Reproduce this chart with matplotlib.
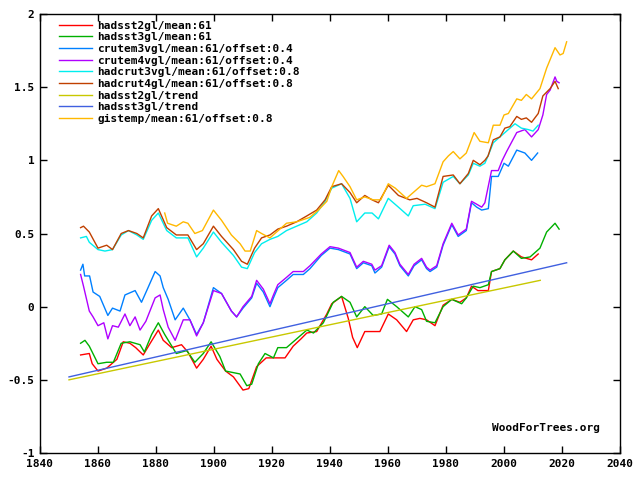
import numpy as np
import matplotlib
matplotlib.use("Agg")
import matplotlib.pyplot as plt

# --- data (year, value) ---
hadsst2_years = [1854, 1857, 1858, 1860, 1863, 1866.5, 1868.7, 1871, 1873, 1875.6, 1878, 1880.8, 1882.5,
                 1885.4, 1888.8, 1891, 1894, 1896.3, 1899, 1901, 1904, 1906.7, 1910, 1912, 1914.7, 1918,
                 1920.5, 1924.5, 1927.3, 1930, 1932, 1935.4, 1938.9, 1940.6, 1944, 1946.3, 1947.8, 1949.4,
                 1952, 1954.4, 1957.2, 1960.1, 1963, 1966.4, 1968.7, 1971, 1973.3, 1976.2, 1979, 1982,
                 1984.8, 1987, 1988.8, 1991, 1994.6, 1995.7, 1998.6, 2000.3, 2003.2, 2006, 2009.5, 2011.8]
hadsst2_vals = [-0.33, -0.32, -0.39, -0.44, -0.42, -0.36, -0.24, -0.25, -0.28, -0.33, -0.25, -0.16, -0.23,
                -0.28, -0.26, -0.31, -0.42, -0.36, -0.27, -0.36, -0.44, -0.48, -0.57, -0.56, -0.41, -0.35,
                -0.35, -0.35, -0.27, -0.22, -0.18, -0.17, -0.05, 0.02, 0.07, -0.08, -0.21, -0.28,
                -0.17, -0.17, -0.17, -0.05, -0.09, -0.17, -0.09, -0.08, -0.09, -0.13, 0.01, 0.05,
                0.03, 0.06, 0.14, 0.11, 0.11, 0.24, 0.26, 0.32, 0.38, 0.34, 0.32, 0.36]

hadsst3_years = [1854, 1855.5, 1857, 1860, 1863, 1865.3, 1868, 1871, 1874.5, 1876, 1878.5, 1880.8, 1883,
                 1887, 1890.6, 1893.4, 1896.3, 1899, 1902, 1904, 1909, 1911.3, 1913, 1915.3, 1917.6,
                 1920.5, 1922, 1925, 1928.5, 1932, 1934.3, 1937.7, 1941.1, 1944, 1946.9, 1949.2, 1952,
                 1954.9, 1957.8, 1959.8, 1963, 1967, 1969.3, 1971.6, 1973.3, 1976.2, 1979, 1982, 1985.4,
                 1987, 1989.4, 1991.7, 1994.6, 1995.7, 1998.6, 2000.3, 2003.2, 2006, 2009, 2012.4,
                 2014.7, 2017.6, 2019]
hadsst3_vals = [-0.25, -0.23, -0.27, -0.39, -0.38, -0.38, -0.25, -0.24, -0.26, -0.31, -0.19, -0.11, -0.19,
                -0.32, -0.30, -0.38, -0.32, -0.24, -0.34, -0.44, -0.46, -0.54, -0.53, -0.39, -0.32,
                -0.35, -0.28, -0.28, -0.22, -0.16, -0.18, -0.11, 0.03, 0.07, 0.03, -0.07, 0.0,
                -0.06, -0.05, 0.05, 0.0, -0.07, 0.0, -0.02, -0.10, -0.11, 0.0, 0.05, 0.02,
                0.06, 0.14, 0.13, 0.15, 0.24, 0.26, 0.32, 0.38, 0.33, 0.34, 0.40,
                0.51, 0.57, 0.53]

crutem3_years = [1854, 1854.8, 1855.4, 1857.1, 1858.3, 1860.6, 1863.4, 1865, 1867.6, 1869.3, 1872.8, 1875,
                 1876.8, 1879.7, 1881.4, 1882.5, 1884.2, 1886.6, 1889.4, 1891.7, 1894, 1896.3, 1899.8,
                 1902.6, 1906, 1907.8, 1910, 1913, 1914.7, 1917, 1919.3, 1920.5, 1922, 1925, 1927.3,
                 1930.8, 1933.1, 1937, 1940, 1942.9, 1946.9, 1949.2, 1951.5, 1954.4, 1955.5, 1957.8,
                 1960.4, 1962.4, 1964.1, 1967, 1969, 1971.6, 1973.3, 1974.5, 1976.8, 1979, 1982, 1984.2,
                 1987, 1988.8, 1990.6, 1992.3, 1994.6, 1995.7, 1998, 2000, 2001.5, 2004.4, 2007.2,
                 2009.5, 2011.6]
crutem3_vals = [0.25, 0.29, 0.21, 0.21, 0.10, 0.07, -0.06, -0.01, -0.03, 0.08, 0.11, 0.03,
                0.11, 0.24, 0.21, 0.13, 0.05, -0.09, -0.01, -0.09, -0.19, -0.11, 0.13,
                0.09, -0.03, -0.07, -0.01, 0.06, 0.16, 0.10, 0.0, 0.06, 0.13, 0.18, 0.22,
                0.22, 0.26, 0.35, 0.40, 0.39, 0.36, 0.26, 0.30, 0.28, 0.23, 0.27,
                0.41, 0.36, 0.28, 0.21, 0.28, 0.32, 0.26, 0.24, 0.27, 0.42, 0.56, 0.48,
                0.52, 0.71, 0.68, 0.66, 0.67, 0.89, 0.89, 0.98, 0.96, 1.07, 1.05,
                1.00, 1.05]

crutem4_years = [1854, 1855, 1857, 1858.3, 1860, 1862, 1863.4, 1865, 1867, 1869.3, 1871, 1872.8, 1874.5,
                 1876.5, 1879.7, 1881.4, 1882.5, 1884.2, 1886.6, 1889.4, 1891.7, 1894, 1896.3, 1899.8,
                 1902.6, 1906, 1907.8, 1910, 1913, 1914.7, 1917, 1919.3, 1920.5, 1922, 1925, 1927.3,
                 1930.8, 1933.1, 1937, 1940, 1942.9, 1946.9, 1949.2, 1951.5, 1954.4, 1955.5, 1957.8,
                 1960.4, 1962.4, 1964.1, 1967, 1969, 1971.6, 1973.3, 1974.5, 1976.8, 1979, 1982, 1984.2,
                 1987, 1988.8, 1990.6, 1992.3, 1993.4, 1995.7, 1998, 1999.4, 2000.9, 2004.4, 2007.2,
                 2009.5, 2011.8, 2013.4, 2014.7, 2015.9, 2017.6, 2018.2, 2019]
crutem4_vals = [0.22, 0.14, -0.03, -0.07, -0.13, -0.11, -0.22, -0.13, -0.14, -0.05, -0.13, -0.07, -0.16,
                -0.10, 0.06, 0.08, -0.02, -0.14, -0.23, -0.09, -0.09, -0.20, -0.11, 0.11,
                0.09, -0.03, -0.07, 0.0, 0.07, 0.18, 0.12, 0.02, 0.08, 0.15, 0.20, 0.24,
                0.24, 0.28, 0.36, 0.41, 0.40, 0.37, 0.27, 0.31, 0.29, 0.25, 0.28,
                0.42, 0.37, 0.29, 0.22, 0.29, 0.33, 0.27, 0.25, 0.28, 0.43, 0.57, 0.49,
                0.53, 0.72, 0.70, 0.68, 0.71, 0.93, 0.93, 1.00, 1.06, 1.19, 1.21,
                1.16, 1.21, 1.31, 1.45, 1.48, 1.57, 1.54, 1.53]

hadcrut3_years = [1854, 1856, 1857, 1860, 1862.4, 1865, 1868, 1870.5, 1873.4, 1875.6, 1878.5, 1880.8,
                  1883.7, 1887, 1891, 1894, 1896.3, 1899.8, 1902.6, 1906.7, 1909.5, 1911.5, 1914,
                  1916.4, 1919.3, 1922, 1925, 1928.5, 1932, 1935.4, 1938.3, 1940.6, 1944, 1946.9, 1949.2,
                  1952, 1954.5, 1956.7, 1960.1, 1963.6, 1967, 1968.7, 1972.8, 1976.2, 1979, 1982.5,
                  1984.8, 1987.7, 1989.4, 1991.7, 1993.4, 1994.5, 1996.3, 1998.6, 2000.9, 2003.8, 2006,
                  2008.4, 2010, 2011.8]
hadcrut3_vals = [0.47, 0.48, 0.44, 0.39, 0.38, 0.39, 0.49, 0.52, 0.49, 0.46, 0.59, 0.64,
                 0.52, 0.47, 0.47, 0.34, 0.40, 0.51, 0.44, 0.35, 0.27, 0.26, 0.37,
                 0.43, 0.46, 0.48, 0.52, 0.55, 0.58, 0.64, 0.72, 0.81, 0.84, 0.74, 0.58,
                 0.64, 0.64, 0.60, 0.74, 0.68, 0.62, 0.69, 0.70, 0.67, 0.85, 0.89,
                 0.84, 0.90, 0.98, 0.96, 0.98, 1.03, 1.12, 1.16, 1.20, 1.25, 1.22,
                 1.21, 1.20, 1.24]

hadcrut4_years = [1854, 1855, 1857, 1860, 1863, 1865, 1868, 1870.5, 1873.4, 1875.6, 1878.5, 1880.8,
                  1883.7, 1887, 1891, 1894, 1896.3, 1899.8, 1902.6, 1906.7, 1909.5, 1911.5, 1914,
                  1916.4, 1919.3, 1922, 1925, 1928.5, 1932, 1935.4, 1938.3, 1940.6, 1944, 1946.9, 1949.2,
                  1952, 1954.5, 1956.7, 1960.1, 1963.6, 1967.5, 1970, 1973.3, 1976.2, 1979, 1982.5,
                  1984.8, 1987.7, 1989.4, 1991.7, 1993.4, 1994.5, 1996.3, 1998.6, 2000.3, 2002, 2004.4,
                  2006, 2007.7, 2009.5, 2011.8, 2013.4, 2015.9, 2017.6, 2018.7]
hadcrut4_vals = [0.54, 0.55, 0.51, 0.40, 0.42, 0.39, 0.50, 0.52, 0.50, 0.47, 0.62, 0.67,
                 0.54, 0.49, 0.49, 0.39, 0.43, 0.55, 0.48, 0.39, 0.31, 0.29, 0.40,
                 0.47, 0.49, 0.53, 0.55, 0.58, 0.62, 0.66, 0.73, 0.82, 0.84, 0.78, 0.71,
                 0.76, 0.73, 0.71, 0.83, 0.76, 0.73, 0.74, 0.71, 0.68, 0.89, 0.90,
                 0.84, 0.91, 1.00, 0.97, 1.00, 1.03, 1.14, 1.16, 1.22, 1.23, 1.30,
                 1.28, 1.29, 1.26, 1.32, 1.44, 1.49, 1.54, 1.49]

gistemp_years = [1883, 1884, 1887, 1889.4, 1891, 1893.4, 1896, 1899.8, 1902.6, 1906, 1909, 1910.7, 1912.5,
                 1914.7, 1916.4, 1919.3, 1921, 1925, 1928.5, 1933, 1936, 1938.9, 1940.6, 1943, 1944.5,
                 1946.9, 1949.2, 1952, 1954.9, 1957.5, 1960.1, 1962.5, 1966.4, 1968.7, 1971.6, 1973.3,
                 1976.2, 1979, 1980.8, 1982.5, 1984.8, 1987, 1989.7, 1991.7, 1994.6, 1996.3, 1998.6,
                 2000, 2001.5, 2004.4, 2006, 2007.7, 2009.5, 2012.4, 2014.7, 2017.6, 2019.3, 2020.4, 2021.6]
gistemp_vals = [0.64, 0.57, 0.55, 0.58, 0.57, 0.50, 0.52, 0.66, 0.59, 0.49, 0.43, 0.38, 0.38,
                0.52, 0.50, 0.47, 0.50, 0.57, 0.58, 0.61, 0.66, 0.72, 0.82, 0.93, 0.89,
                0.82, 0.73, 0.75, 0.73, 0.73, 0.84, 0.81, 0.74, 0.78, 0.83, 0.82,
                0.84, 0.99, 1.03, 1.06, 1.01, 1.05, 1.19, 1.13, 1.12, 1.24, 1.24,
                1.31, 1.32, 1.42, 1.41, 1.45, 1.42, 1.49, 1.63, 1.77, 1.72, 1.73, 1.81]

# linear trends (start/end)
hadsst2_trend_years = [1850, 2012.5]
hadsst2_trend_vals = [-0.50, 0.18]
hadsst3_trend_years = [1850, 2021.6]
hadsst3_trend_vals = [-0.48, 0.30]

series = [
    ("hadsst2gl/mean:61", hadsst2_years, hadsst2_vals, "#ff0000"),
    ("hadsst3gl/mean:61", hadsst3_years, hadsst3_vals, "#00b000"),
    ("crutem3vgl/mean:61/offset:0.4", crutem3_years, crutem3_vals, "#0080ff"),
    ("crutem4vgl/mean:61/offset:0.4", crutem4_years, crutem4_vals, "#b000ff"),
    ("hadcrut3vgl/mean:61/offset:0.8", hadcrut3_years, hadcrut3_vals, "#00eeee"),
    ("hadcrut4gl/mean:61/offset:0.8", hadcrut4_years, hadcrut4_vals, "#c04000"),
    ("hadsst2gl/trend", hadsst2_trend_years, hadsst2_trend_vals, "#c8c800"),
    ("hadsst3gl/trend", hadsst3_trend_years, hadsst3_trend_vals, "#4060e0"),
    ("gistemp/mean:61/offset:0.8", gistemp_years, gistemp_vals, "#ffb800"),
]

font = {"family": "DejaVu Sans Mono", "weight": "bold", "size": 8}
plt.rcParams["font.family"] = "DejaVu Sans Mono"
plt.rcParams["font.weight"] = "bold"

fig = plt.figure(figsize=(6.4, 4.8), dpi=100)
ax = fig.add_axes([40 / 640, 27 / 480, 580 / 640, 439 / 480])

for label, xs, ys, col in series:
    ax.plot(xs, ys, color=col, lw=1.0, label=label)

ax.set_xlim(1840, 2040)
ax.set_ylim(-1, 2)
ax.set_xticks(np.arange(1840, 2041, 20))
ax.set_yticks([-1, -0.5, 0, 0.5, 1, 1.5, 2])
ax.set_yticklabels(["-1", "-0.5", "0", "0.5", "1", "1.5", "2"])
ax.tick_params(direction="in", length=5, width=1, top=True, right=True,
               labelsize=8, pad=4)
for lab in ax.get_xticklabels() + ax.get_yticklabels():
    lab.set_fontweight("bold")
for sp in ax.spines.values():
    sp.set_linewidth(1)

leg = ax.legend(loc="upper left", bbox_to_anchor=(0.033, 0.985), frameon=False,
                prop=font, handlelength=3.0, handletextpad=0.45, labelspacing=0.15,
                borderaxespad=0, borderpad=0)

ax.text(0.965, 0.045, "WoodForTrees.org", transform=ax.transAxes, ha="right",
        va="bottom", fontdict=font)

fig.savefig("out.png", dpi=100)
